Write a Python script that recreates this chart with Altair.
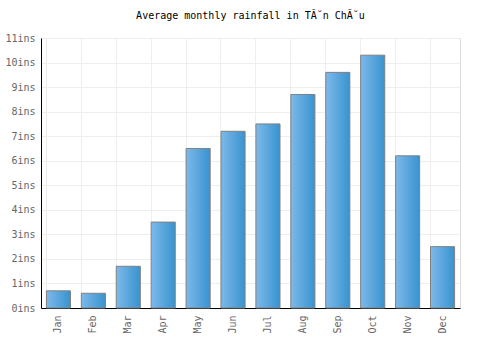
import altair as alt
import pandas as pd

months = ["Jan", "Feb", "Mar", "Apr", "May", "Jun", "Jul", "Aug", "Sep", "Oct", "Nov", "Dec"]
rain = [0.7, 0.6, 1.7, 3.5, 6.5, 7.2, 7.5, 8.7, 9.6, 10.3, 6.2, 2.5]
ticks = list(range(0, 12))

df = pd.DataFrame({"month": months, "rain": rain})

font = "DejaVu Sans Mono"

bars = alt.Chart(df).mark_bar(
    fill=alt.Gradient(
        gradient="linear", x1=0, x2=1, y1=0, y2=0,
        stops=[alt.GradientStop(color="#7db9ea", offset=0),
               alt.GradientStop(color="#3893cf", offset=1)],
    ),
    stroke="#808080",
    strokeWidth=1,
).encode(
    x=alt.X("month:N", sort=months, title=None,
            scale=alt.Scale(paddingInner=0.31, paddingOuter=0.155),
            axis=alt.Axis(labelAngle=-90, labelAlign="right", labelBaseline="middle",
                          grid=True, bandPosition=0, gridColor="#eeeeee",
                          ticks=False, domainColor="#000000", labelColor="#666666",
                          labelFont=font, labelFontSize=10, labelPadding=7)),
    y=alt.Y("rain:Q", title=None,
            scale=alt.Scale(domain=[0, 11], nice=False),
            axis=alt.Axis(values=ticks, labelExpr="datum.value + 'ins'",
                          grid=True, gridColor="#eeeeee", ticks=False,
                          domainColor="#000000", labelColor="#666666",
                          labelFont=font, labelFontSize=10, labelPadding=6)),
)

chart = bars.properties(
    width=419, height=270,
    title=alt.TitleParams("Average monthly rainfall in TÃ˘n ChÃ˘u", font=font,
                          fontSize=10, fontWeight="normal", color="#000000",
                          offset=12, anchor="middle"),
    autosize=alt.AutoSizeParams(type="none"),
    padding={"left": 41, "top": 38, "right": 40, "bottom": 42},
).configure_view(stroke="#eeeeee").configure(background="white")

chart.save("out.html", embed_options={"renderer": "svg", "actions": False})
